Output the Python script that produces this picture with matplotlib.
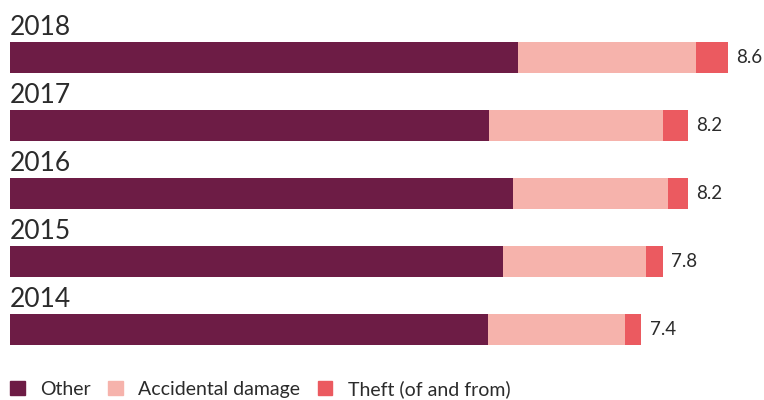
import matplotlib
matplotlib.use('Agg')
import matplotlib.pyplot as plt
from matplotlib.patches import Patch

# Dados (de cima para baixo)
years = ['2018', '2017', '2016', '2015', '2014']
other = [6.08, 5.74, 6.02, 5.90, 5.72]
accidental = [2.14, 2.08, 1.86, 1.72, 1.64]
theft = [0.38, 0.30, 0.24, 0.20, 0.20]
totals = ['8.6', '8.2', '8.2', '7.8', '7.4']
series_names = ['Other', 'Accidental damage', 'Theft (of and from)']

colors = ['#6d1c45', '#f6b3ac', '#eb5a60']
text_color = '#2b2b2b'

plt.rcParams['font.family'] = ['Lato', 'DejaVu Sans']

fig = plt.figure(figsize=(7.64, 4.0), dpi=100)
ax = fig.add_axes([0, 0, 1, 1])

px = 83.5  # pixels por unidade
ax.set_xlim(-10 / px, 754 / px)
ax.set_ylim(342.5 / 68, -57.5 / 68)
h = 31 / 68

pos = list(range(len(years)))
left = [0] * len(years)
for vals, c in zip([other, accidental, theft], colors):
    ax.barh(pos, vals, left=left, height=h, color=c, linewidth=0)
    left = [l + v for l, v in zip(left, vals)]

for i, y in enumerate(years):
    ax.text(0, i - h / 2 - 7 / 68, y, fontsize=19, color=text_color,
            va='baseline', ha='left')
    ax.annotate(totals[i], (left[i], i), xytext=(6, 0), textcoords='offset points',
                fontsize=13.5, color=text_color, va='center', ha='left')

ax.axis('off')

handles = [Patch(color=c, label=n) for c, n in zip(colors, series_names)]
fig.legend(handles=handles, loc='lower left', bbox_to_anchor=(0.013, 0.005), ncol=3,
           frameon=False, prop={'size': 14},
           handlelength=0.75, handleheight=0.75, handletextpad=0.8, columnspacing=0.9,
           labelcolor=text_color, borderaxespad=0.0, borderpad=0.0)

plt.savefig('out.png', dpi=100)
